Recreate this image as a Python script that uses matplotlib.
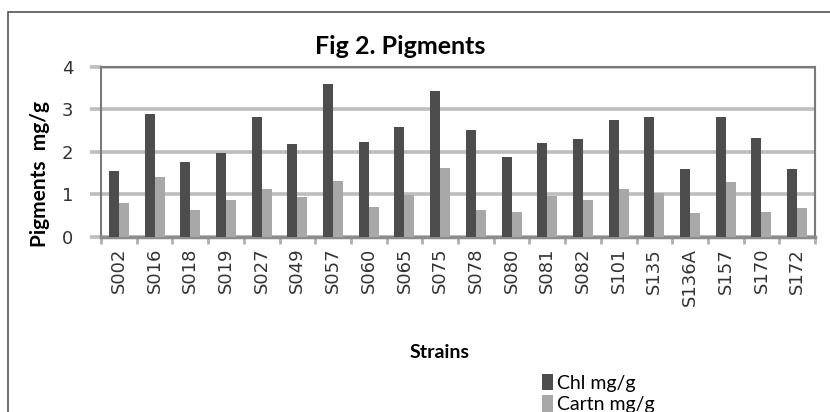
import numpy as np
import matplotlib
matplotlib.use('Agg')
import matplotlib.pyplot as plt
from matplotlib.patches import Rectangle

# Data
strains = ['S002', 'S016', 'S018', 'S019', 'S027', 'S049', 'S057', 'S060', 'S065', 'S075',
           'S078', 'S080', 'S081', 'S082', 'S101', 'S135', 'S136A', 'S157', 'S170', 'S172']
chl = [1.55, 2.89, 1.77, 1.97, 2.82, 2.19, 3.60, 2.23, 2.58, 3.43,
       2.52, 1.87, 2.22, 2.31, 2.74, 2.82, 1.59, 2.82, 2.33, 1.60]
cartn = [0.79, 1.40, 0.63, 0.87, 1.13, 0.93, 1.32, 0.69, 0.99, 1.62,
         0.63, 0.59, 0.95, 0.87, 1.12, 1.03, 0.57, 1.30, 0.59, 0.67]
yticks = [0, 1, 2, 3, 4]

fig = plt.figure(figsize=(8.3, 4.12), dpi=100)
fig.patch.set_facecolor('white')

# outer chart border (right / bottom run off the picture)
fig.patches.append(Rectangle((8 / 830, -0.2), 1.2, 1.2 - 12 / 412,
                             transform=fig.transFigure, fill=False,
                             edgecolor='#555555', lw=1.2))

ax = fig.add_axes([101 / 830, 1 - 236.7 / 412, 714 / 830, 169.7 / 412])
x = np.arange(len(strains))
w = 0.28
ax.bar(x - w / 2, chl, w, color='#4d4d4d', label='Chl mg/g', zorder=3)
ax.bar(x + w / 2, cartn, w, color='#a8a8a8', label='Cartn mg/g', zorder=3)

ax.set_xlim(-0.5, len(strains) - 0.5)
ax.set_ylim(0, 4)
ax.set_yticks(yticks)
ax.set_yticklabels([str(v) for v in yticks], fontsize=13, color='#333333')
ax.set_xticks(x)
ax.set_xticklabels(strains, rotation=90, fontsize=13, color='#333333')
ax.set_xticks(np.arange(len(strains) + 1) - 0.5, minor=True)
ax.tick_params(axis='x', which='major', length=0, pad=8)
ax.tick_params(axis='x', which='minor', length=5, width=2, color='#b0b0b0')
ax.tick_params(axis='y', length=8, width=2.6, color='#bdbdbd', pad=12)

ax.grid(axis='y', color='#bdbdbd', lw=2.6, zorder=0)
ax.set_axisbelow(True)
for side in ['left', 'top', 'right']:
    ax.spines[side].set_color('#7a7a7a')
    ax.spines[side].set_linewidth(1.5)
ax.spines['bottom'].set_color('#8c8c8c')
ax.spines['bottom'].set_linewidth(2.5)

fig.text(400 / 830, 1 - 47 / 412, 'Fig 2. Pigments', ha='center', va='center',
         fontsize=18, fontweight='bold', family='Lato')
fig.text(40 / 830, 1 - 174 / 412, 'Pigments  mg/g', ha='center', va='center',
         rotation=90, fontsize=15, fontweight='bold', family='Lato')
fig.text(440 / 830, 1 - 352 / 412, 'Strains', ha='center', va='center',
         fontsize=14, fontweight='bold', family='Lato')

fig.legend(loc='upper left', bbox_to_anchor=(532 / 830, 1 - 364 / 412),
           frameon=False, prop={'family': 'Lato', 'size': 14},
           handlelength=0.6, handleheight=0.9, handletextpad=0.2,
           labelspacing=0.2, borderpad=0)

fig.savefig('out.png', dpi=100)
